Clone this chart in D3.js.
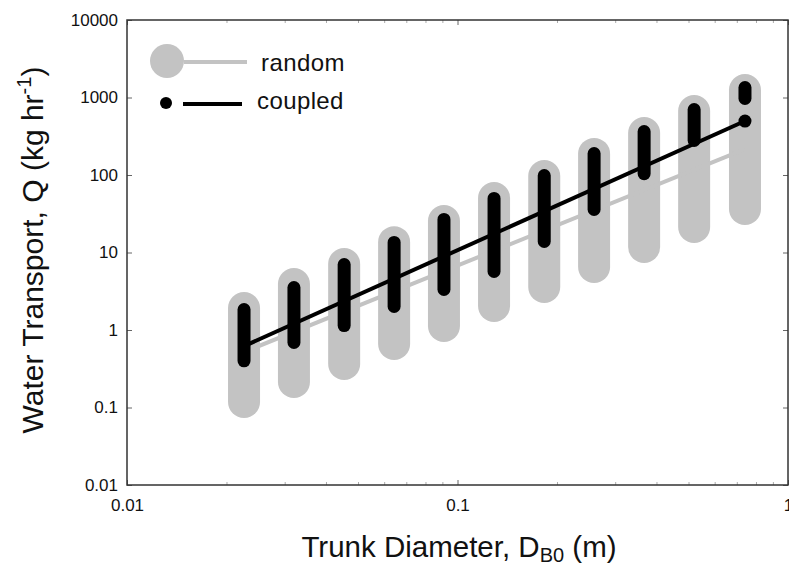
<!DOCTYPE html>
<html>
<head>
<meta charset="utf-8">
<script src="https://cdn.jsdelivr.net/npm/d3@7/dist/d3.min.js"></script>
<style>
  html, body { margin: 0; padding: 0; background: #fff; }
  svg { display: block; font-family: "Liberation Sans", Arial, Helvetica, sans-serif; }
</style>
</head>
<body>
<svg id="chart" width="789" height="567"></svg>
<script>
// ---- data ----
const diameters  = [0.0226, 0.032, 0.0454, 0.0643, 0.091, 0.129, 0.183, 0.259, 0.367, 0.52, 0.741];
const randomMin  = [0.118, 0.213, 0.364, 0.66, 1.13, 2.04, 3.59, 6.5, 11.8, 21.3, 36.4];
const randomMax  = [1.92, 3.92, 7.1, 13.6, 25.5, 50.5, 97, 187, 348, 670, 1250];
const coupledMin = [0.40, 0.69, 1.14, 2.01, 3.33, 5.7, 13.9, 35.9, 104, 279, 971];
const coupledMax = [1.84, 3.53, 7.0, 13.5, 26.7, 49.8, 98.6, 189, 364, 700, 1345];
const fitX       = [0.0226, 0.741];
const randomFit  = [0.52, 216];
const coupledFit = [0.62, 497];
const coupledExtraX = [0.741];
const coupledExtraQ = [497];
const xTickValues = [0.01, 0.1, 1];
const xTickLabels = ["0.01", "0.1", "1"];
const yTickValues = [0.01, 0.1, 1, 10, 100, 1000, 10000];
const yTickLabels = ["0.01", "0.1", "1", "10", "100", "1000", "10000"];
const legendLabels = ["random", "coupled"];

const GREY = "#c3c3c3";
const BLACK = "#000";

const svg = d3.select("#chart");
const L = 127, R = 788, T = 20, B = 485;

const x = d3.scaleLog().domain([0.01, 1]).range([L, R]);
const y = d3.scaleLog().domain([0.01, 10000]).range([B, T]);

// minor x ticks
const xMinor = [];
for (const dec of [0.01, 0.1]) for (let k = 2; k <= 9; k++) xMinor.push(dec * k);

// ---- random capsules ----
const g = svg.append("g");
g.selectAll("line.rnd").data(diameters).join("line")
  .attr("class", "rnd")
  .attr("x1", d => x(d)).attr("x2", d => x(d))
  .attr("y1", (d, i) => y(randomMin[i])).attr("y2", (d, i) => y(randomMax[i]))
  .attr("stroke", GREY).attr("stroke-width", 32).attr("stroke-linecap", "round");

// random fit line
g.append("line")
  .attr("x1", x(fitX[0])).attr("y1", y(randomFit[0]))
  .attr("x2", x(fitX[1])).attr("y2", y(randomFit[1]))
  .attr("stroke", GREY).attr("stroke-width", 4);

// coupled capsules
g.selectAll("line.cpl").data(diameters).join("line")
  .attr("class", "cpl")
  .attr("x1", d => x(d)).attr("x2", d => x(d))
  .attr("y1", (d, i) => y(coupledMin[i])).attr("y2", (d, i) => y(coupledMax[i]))
  .attr("stroke", BLACK).attr("stroke-width", 13).attr("stroke-linecap", "round");

// coupled fit line
g.append("line")
  .attr("x1", x(fitX[0])).attr("y1", y(coupledFit[0]))
  .attr("x2", x(fitX[1])).attr("y2", y(coupledFit[1]))
  .attr("stroke", BLACK).attr("stroke-width", 4);

g.selectAll("circle.extra").data(coupledExtraX).join("circle")
  .attr("class", "extra")
  .attr("cx", d => x(d)).attr("cy", (d, i) => y(coupledExtraQ[i]))
  .attr("r", 6.5).attr("fill", BLACK);

// ---- axes ----
const fmtX = d => xTickLabels[xTickValues.indexOf(d)];
const fmtY = d => yTickLabels[yTickValues.indexOf(d)];

const axB = svg.append("g").attr("transform", `translate(0,${B})`)
  .call(d3.axisBottom(x).tickValues(xTickValues).tickFormat(fmtX).tickSize(-5).tickPadding(14));
const axBm = svg.append("g").attr("transform", `translate(0,${B})`)
  .call(d3.axisBottom(x).tickValues(xMinor).tickFormat("").tickSize(-3));
const axT = svg.append("g").attr("transform", `translate(0,${T})`)
  .call(d3.axisTop(x).tickValues(xTickValues).tickFormat("").tickSize(-5));
const axTm = svg.append("g").attr("transform", `translate(0,${T})`)
  .call(d3.axisTop(x).tickValues(xMinor).tickFormat("").tickSize(-3));
const axL = svg.append("g").attr("transform", `translate(${L},0)`)
  .call(d3.axisLeft(y).tickValues(yTickValues).tickFormat(fmtY).tickSize(-5).tickPadding(9));
const axR = svg.append("g").attr("transform", `translate(${R},0)`)
  .call(d3.axisRight(y).tickValues(yTickValues).tickFormat("").tickSize(-5));

[axB, axBm, axT, axTm, axL, axR].forEach(a => {
  a.select(".domain").remove();
  a.selectAll(".tick line").attr("stroke", "#666").attr("stroke-width", 1);
});
[axBm, axTm].forEach(a => a.selectAll(".tick line").attr("stroke", "#aaa"));
[axB, axL].forEach(a => a.selectAll(".tick text")
  .attr("font-size", 17).attr("fill", "#111")
  .attr("font-family", "'Liberation Sans', Arial, sans-serif"));

// frame
svg.append("rect").attr("x", L).attr("y", T).attr("width", R - L).attr("height", B - T)
  .attr("fill", "none").attr("stroke", "#333").attr("stroke-width", 1.5);

// ---- axis titles ----
const xt = svg.append("text").attr("x", 459).attr("y", 557)
  .attr("text-anchor", "middle").attr("font-size", 29.5).attr("fill", "#111");
xt.append("tspan").text("Trunk Diameter, D");
xt.append("tspan").attr("font-size", 20).attr("dy", 5).text("B0");
xt.append("tspan").attr("dy", -5).text(" (m)");

const yt = svg.append("text").attr("transform", "translate(43,250) rotate(-90)")
  .attr("text-anchor", "middle").attr("font-size", 30).attr("fill", "#111");
yt.append("tspan").text("Water Transport, Q (kg hr");
yt.append("tspan").attr("font-size", 20).attr("dy", -12).text("-1");
yt.append("tspan").attr("dy", 12).text(")");

// ---- legend ----
const lg = svg.append("g");
lg.append("circle").attr("cx", 167).attr("cy", 61).attr("r", 17).attr("fill", GREY);
lg.append("line").attr("x1", 184).attr("x2", 247).attr("y1", 62).attr("y2", 62)
  .attr("stroke", GREY).attr("stroke-width", 4);
lg.append("text").attr("x", 261).attr("y", 71).attr("font-size", 24)
  .attr("letter-spacing", 0.4).attr("fill", "#111").text(legendLabels[0]);
lg.append("circle").attr("cx", 166).attr("cy", 103).attr("r", 6).attr("fill", BLACK);
lg.append("line").attr("x1", 183).attr("x2", 242).attr("y1", 104).attr("y2", 104)
  .attr("stroke", BLACK).attr("stroke-width", 4);
lg.append("text").attr("x", 257).attr("y", 109).attr("font-size", 24)
  .attr("letter-spacing", 0.4).attr("fill", "#111").text(legendLabels[1]);
</script>
</body>
</html>
